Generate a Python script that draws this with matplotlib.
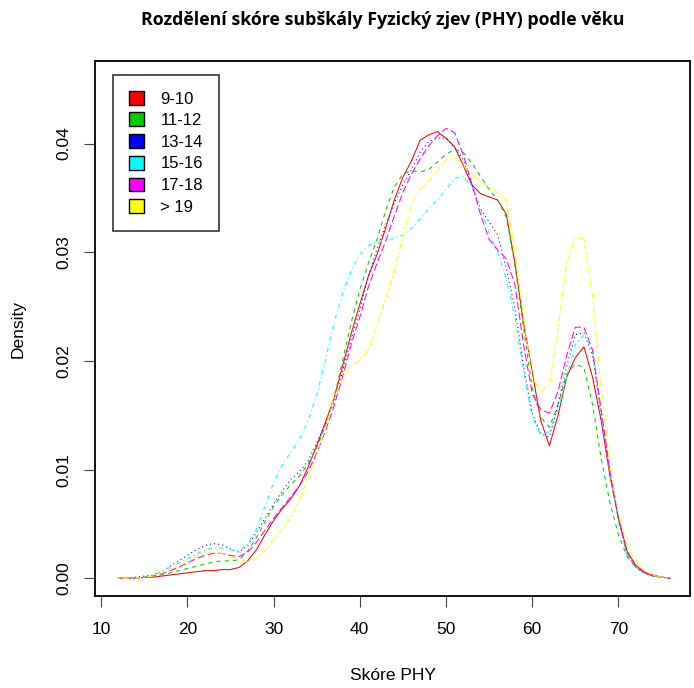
import numpy as np
import matplotlib.pyplot as plt
from matplotlib.patches import Patch

# density curves, x = skore PHY
x = list(range(12, 77))

d_9_10 = [0.0000, 0.0000, 0.0000, 0.0001, 0.0001, 0.0002, 0.0003, 0.0004, 0.0005, 0.0006,
          0.0007, 0.0007, 0.0008, 0.0008, 0.0010, 0.0016, 0.0026, 0.0040, 0.0053, 0.0064,
          0.0073, 0.0085, 0.0102, 0.0122, 0.0143, 0.0165, 0.0195, 0.0225, 0.0252, 0.0278,
          0.0298, 0.0322, 0.0348, 0.0369, 0.0384, 0.0403, 0.0408, 0.0411, 0.0405, 0.0397,
          0.0380, 0.0362, 0.0354, 0.0351, 0.0348, 0.0335, 0.0290, 0.0235, 0.0190, 0.0145,
          0.0122, 0.0150, 0.0185, 0.0203, 0.0213, 0.0185, 0.0145, 0.0095, 0.0055, 0.0025,
          0.0012, 0.0006, 0.0003, 0.0001, 0.0000]

d_11_12 = [0.0000, 0.0000, 0.0000, 0.0001, 0.0002, 0.0003, 0.0005, 0.0007, 0.0009, 0.0011,
           0.0013, 0.0015, 0.0016, 0.0016, 0.0017, 0.0025, 0.0037, 0.0052, 0.0066, 0.0077,
           0.0086, 0.0094, 0.0105, 0.0120, 0.0140, 0.0165, 0.0200, 0.0235, 0.0265, 0.0290,
           0.0312, 0.0338, 0.0360, 0.0372, 0.0375, 0.0374, 0.0376, 0.0383, 0.0390, 0.0395,
           0.0392, 0.0382, 0.0370, 0.0358, 0.0348, 0.0332, 0.0288, 0.0230, 0.0175, 0.0148,
           0.0139, 0.0160, 0.0188, 0.0197, 0.0194, 0.0160, 0.0110, 0.0070, 0.0040, 0.0020,
           0.0010, 0.0005, 0.0002, 0.0001, 0.0000]

d_13_14 = [0.0000, 0.0000, 0.0001, 0.0002, 0.0003, 0.0006, 0.0011, 0.0016, 0.0021, 0.0026,
           0.0030, 0.0032, 0.0031, 0.0027, 0.0024, 0.0030, 0.0042, 0.0055, 0.0068, 0.0080,
           0.0091, 0.0098, 0.0108, 0.0124, 0.0142, 0.0162, 0.0190, 0.0220, 0.0247, 0.0278,
           0.0303, 0.0325, 0.0345, 0.0362, 0.0376, 0.0392, 0.0402, 0.0405, 0.0405, 0.0396,
           0.0385, 0.0362, 0.0340, 0.0328, 0.0316, 0.0285, 0.0248, 0.0195, 0.0152, 0.0133,
           0.0130, 0.0160, 0.0195, 0.0224, 0.0226, 0.0205, 0.0150, 0.0098, 0.0055, 0.0022,
           0.0010, 0.0005, 0.0002, 0.0001, 0.0000]

d_15_16 = [0.0000, 0.0000, 0.0000, 0.0001, 0.0003, 0.0006, 0.0010, 0.0014, 0.0018, 0.0022,
           0.0026, 0.0028, 0.0028, 0.0026, 0.0025, 0.0032, 0.0045, 0.0066, 0.0088, 0.0104,
           0.0116, 0.0128, 0.0145, 0.0168, 0.0200, 0.0235, 0.0262, 0.0283, 0.0298, 0.0306,
           0.0310, 0.0311, 0.0313, 0.0316, 0.0322, 0.0331, 0.0340, 0.0348, 0.0358, 0.0368,
           0.0370, 0.0360, 0.0340, 0.0318, 0.0300, 0.0275, 0.0240, 0.0190, 0.0148, 0.0132,
           0.0135, 0.0155, 0.0185, 0.0215, 0.0224, 0.0210, 0.0150, 0.0098, 0.0052, 0.0022,
           0.0010, 0.0005, 0.0002, 0.0001, 0.0000]

d_17_18 = [0.0000, 0.0000, 0.0000, 0.0001, 0.0002, 0.0004, 0.0007, 0.0010, 0.0014, 0.0018,
           0.0021, 0.0023, 0.0023, 0.0021, 0.0020, 0.0024, 0.0033, 0.0044, 0.0055, 0.0065,
           0.0075, 0.0085, 0.0098, 0.0115, 0.0135, 0.0158, 0.0185, 0.0215, 0.0240, 0.0268,
           0.0290, 0.0310, 0.0333, 0.0355, 0.0372, 0.0386, 0.0398, 0.0407, 0.0414, 0.0410,
           0.0390, 0.0363, 0.0335, 0.0312, 0.0302, 0.0294, 0.0270, 0.0215, 0.0170, 0.0155,
           0.0152, 0.0172, 0.0205, 0.0231, 0.0231, 0.0210, 0.0155, 0.0100, 0.0055, 0.0024,
           0.0011, 0.0005, 0.0002, 0.0001, 0.0000]

d_19 = [0.0000, 0.0000, 0.0000, 0.0001, 0.0002, 0.0005, 0.0008, 0.0012, 0.0016, 0.0020,
        0.0023, 0.0024, 0.0023, 0.0020, 0.0017, 0.0015, 0.0018, 0.0025, 0.0035, 0.0045,
        0.0056, 0.0072, 0.0092, 0.0113, 0.0138, 0.0165, 0.0185, 0.0195, 0.0201, 0.0210,
        0.0232, 0.0258, 0.0282, 0.0315, 0.0345, 0.0358, 0.0366, 0.0375, 0.0385, 0.0387,
        0.0380, 0.0372, 0.0365, 0.0360, 0.0355, 0.0348, 0.0300, 0.0240, 0.0185, 0.0172,
        0.0178, 0.0230, 0.0290, 0.0313, 0.0313, 0.0260, 0.0175, 0.0105, 0.0060, 0.0030,
        0.0015, 0.0007, 0.0003, 0.0001, 0.0000]

labels = ['9-10', '11-12', '13-14', '15-16', '17-18', '> 19']
series = [d_9_10, d_11_12, d_13_14, d_15_16, d_17_18, d_19]
colors = ['#ff0000', '#00cd00', '#0000ff', '#00ffff', '#ff00ff', '#ffff00']
# R lty 1..6
styles = ['-', (0, (4, 4)), (0, (1, 3)), (0, (1, 3, 4, 3)), (0, (7, 3)), (0, (2, 2, 6, 2))]

plt.rcParams['font.family'] = ['Liberation Sans', 'DejaVu Sans']

fig = plt.figure(figsize=(6.94, 6.88), dpi=100)
ax = fig.add_axes([95 / 694, 1 - 596 / 688, 595 / 694, 535 / 688])

for y, c, ls in zip(series, colors, styles):
    ax.plot(x, y, color=c, linestyle=ls, linewidth=0.75)

ax.set_xlim(9.3, 78.3)
ax.set_ylim(-0.00163, 0.0476)
ax.set_xticks([10, 20, 30, 40, 50, 60, 70])
ax.set_yticks([0.0, 0.01, 0.02, 0.03, 0.04])
ax.set_yticklabels(['0.00', '0.01', '0.02', '0.03', '0.04'], rotation=90, va='center')
ax.tick_params(labelsize=12.5, length=8, width=0.8, color='#444444', pad=11)
ax.tick_params(axis='y', pad=9)
for s in ax.spines.values():
    s.set_linewidth(1.3)

ax.set_xlabel('Skóre PHY', fontsize=12.5, labelpad=22)
ax.set_ylabel('Density', fontsize=12.5, labelpad=22)
fig.suptitle('Rozdělení skóre subškály Fyzický zjev (PHY) podle věku',
             x=383 / 694, y=1 - 20 / 688, va='center', fontsize=12.8,
             fontweight='bold', family=['Open Sans', 'DejaVu Sans'])

handles = [Patch(facecolor=c, edgecolor='black', linewidth=1) for c in colors]
leg = ax.legend(handles, labels, loc='upper left', bbox_to_anchor=(18 / 595, 1 - 14 / 535),
                fontsize=12, frameon=True, fancybox=False, handlelength=0.9,
                handleheight=0.9, handletextpad=1.0, labelspacing=0.36,
                borderpad=0.95, borderaxespad=0)
leg.get_frame().set_edgecolor('black')
leg.get_frame().set_linewidth(1.2)

fig.savefig('out.png', dpi=100)
